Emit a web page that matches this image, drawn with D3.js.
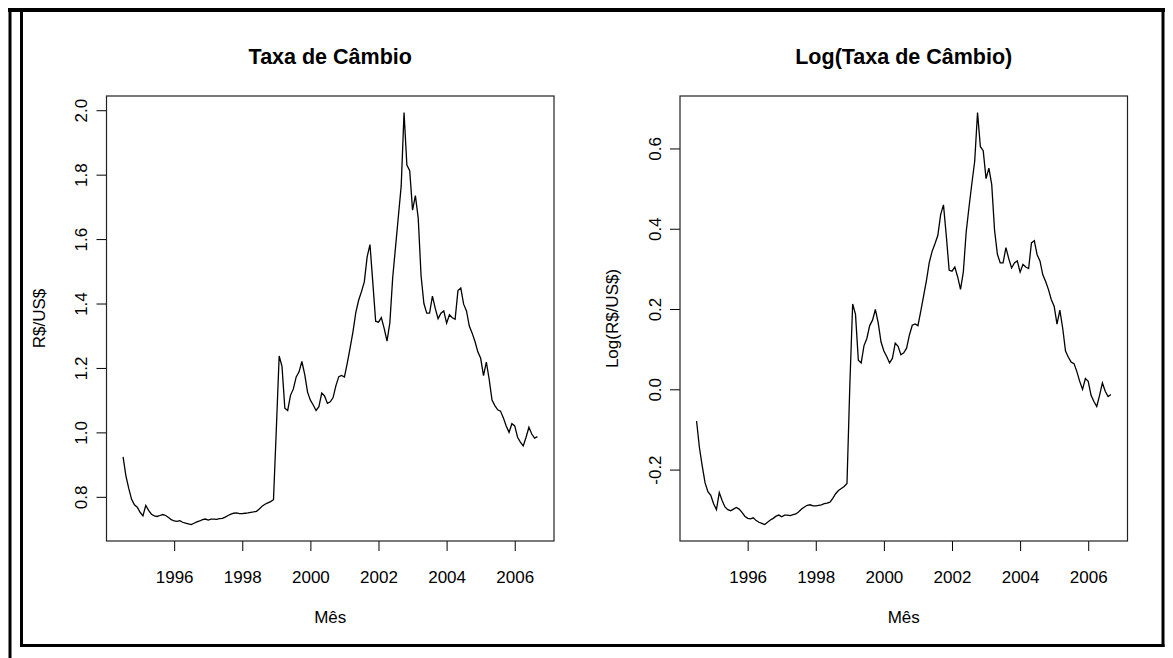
<!DOCTYPE html>
<html>
<head>
<meta charset="utf-8">
<script src="https://cdn.jsdelivr.net/npm/d3@7"></script>
<style>
  body { margin: 0; background: #fff; }
  svg text { font-family: "Liberation Sans", Arial, sans-serif; fill: #000; }
</style>
</head>
<body>
<div id="okvir"></div>
<script>
// dados mensais, jul/1994 ate set/2006
const inicio = 1994.5
const taxa = [
  0.924, 0.865, 0.826, 0.792, 0.775, 0.768, 0.752, 0.741, 0.773, 0.758, 0.746, 0.741,
  0.739, 0.742, 0.745, 0.742, 0.736, 0.729, 0.725, 0.724, 0.726, 0.721, 0.718, 0.716,
  0.714, 0.718, 0.722, 0.725, 0.729, 0.731, 0.728, 0.731, 0.731, 0.730, 0.732, 0.733,
  0.737, 0.742, 0.746, 0.749, 0.750, 0.748, 0.748, 0.749, 0.750, 0.752, 0.753, 0.755,
  0.762, 0.771, 0.777, 0.781, 0.785, 0.791, 1.010, 1.237, 1.205, 1.075, 1.068, 1.115,
  1.135, 1.172, 1.188, 1.220, 1.180, 1.125, 1.100, 1.085, 1.068, 1.080, 1.122, 1.113,
  1.090, 1.095, 1.108, 1.145, 1.173, 1.177, 1.172, 1.215, 1.262, 1.312, 1.372, 1.410,
  1.437, 1.467, 1.545, 1.583, 1.465, 1.345, 1.342, 1.356, 1.323, 1.283, 1.340, 1.480,
  1.575, 1.670, 1.765, 1.993, 1.830, 1.812, 1.690, 1.735, 1.665, 1.486, 1.400, 1.370,
  1.370, 1.423, 1.385, 1.353, 1.370, 1.377, 1.339, 1.365, 1.356, 1.351, 1.440, 1.448,
  1.398, 1.377, 1.330, 1.308, 1.282, 1.250, 1.230, 1.176, 1.218, 1.165, 1.100, 1.083,
  1.070, 1.066, 1.045, 1.020, 1.000, 1.027, 1.020, 0.985, 0.970, 0.958, 0.985, 1.016,
  0.995, 0.982, 0.987
]
const anos = [1996, 1998, 2000, 2002, 2004, 2006]
const ticksTaxa = [0.8, 1.0, 1.2, 1.4, 1.6, 1.8, 2.0]
const ticksLog = [-0.2, 0.0, 0.2, 0.4, 0.6]
const titulos = ["Taxa de Câmbio", "Log(Taxa de Câmbio)"]
const rotulosY = ["R$/US$", "Log(R$/US$)"]
const rotuloX = "Mês"

const largura = 1173
const altura = 658

const svg = d3.select("#okvir")
  .append("svg")
    .attr("width", largura)
    .attr("height", altura)

// moldura (parece uma captura de tela)
const moldura = svg.append("g").attr("stroke", "#000").attr("fill", "none")
moldura.append("line").attr("x1", 8).attr("x2", 1165).attr("y1", 10).attr("y2", 10).attr("stroke-width", 4)
moldura.append("line").attr("x1", 10).attr("x2", 10).attr("y1", 8).attr("y2", altura).attr("stroke-width", 3)
moldura.append("line").attr("x1", 21.5).attr("x2", 21.5).attr("y1", 10).attr("y2", 647).attr("stroke-width", 3)
moldura.append("line").attr("x1", 1163).attr("x2", 1163).attr("y1", 10).attr("y2", 647).attr("stroke-width", 3)
moldura.append("line").attr("x1", 20).attr("x2", 1164.5).attr("y1", 645.5).attr("y2", 645.5).attr("stroke-width", 3)

// expande 4% como o R faz
const expandir = ext => {
  const d = (ext[1] - ext[0]) * 0.04
  return [ext[0] - d, ext[1] + d]
}

const pontos = taxa.map((v, i) => ({ t: inicio + i / 12, v: v }))
const pontosLog = taxa.map((v, i) => ({ t: inicio + i / 12, v: Math.log(v) }))

const paineis = [
  { dados: pontos, ticks: ticksTaxa, x0: 106.5 },
  { dados: pontosLog, ticks: ticksLog, x0: 680 },
]

const topo = 96
const base = 541
const larguraPlot = 447.5

paineis.forEach((p, k) => {
  const g = svg.append("g")

  const x = d3.scaleLinear()
    .domain(expandir(d3.extent(p.dados, d => d.t)))
    .range([p.x0, p.x0 + larguraPlot])
  const y = d3.scaleLinear()
    .domain(expandir(d3.extent(p.dados, d => d.v)))
    .range([base, topo])

  const eixoX = d3.axisBottom(x)
    .tickValues(anos)
    .tickSize(10)
    .tickSizeOuter(0)
    .tickFormat(d3.format("d"))
  const gx = g.append("g")
    .attr("transform", `translate(0, ${base})`)
    .call(eixoX)
  gx.select(".domain").remove()
  gx.selectAll("line").attr("stroke", "#000")
  gx.selectAll("text")
    .attr("y", 42)
    .attr("dy", null)
    .style("font-size", "17px")

  const eixoY = d3.axisLeft(y)
    .tickValues(p.ticks)
    .tickSize(10)
    .tickSizeOuter(0)
    .tickFormat(d => d.toFixed(1))
  const gy = g.append("g")
    .attr("transform", `translate(${p.x0}, 0)`)
    .call(eixoY)
  gy.select(".domain").remove()
  gy.selectAll("line").attr("stroke", "#000")
  gy.selectAll("text")
    .attr("x", null)
    .attr("dy", null)
    .attr("text-anchor", "middle")
    .attr("transform", "translate(-19.5, 0) rotate(-90)")
    .style("font-size", "17px")

  // caixa do grafico
  g.append("rect")
    .attr("x", p.x0)
    .attr("y", topo)
    .attr("width", larguraPlot)
    .attr("height", base - topo)
    .attr("fill", "none")
    .attr("stroke", "#222")
    .attr("stroke-width", 1.2)

  const linha = d3.line()
    .x(d => x(d.t))
    .y(d => y(d.v))

  g.append("path")
    .datum(p.dados)
    .attr("d", linha)
    .attr("fill", "none")
    .attr("stroke", "#000")
    .attr("stroke-width", 1.3)

  const meio = p.x0 + larguraPlot / 2

  g.append("text")
    .attr("x", meio)
    .attr("y", 64)
    .attr("text-anchor", "middle")
    .style("font-size", "21.5px")
    .style("font-weight", "bold")
    .text(titulos[k])

  g.append("text")
    .attr("x", meio)
    .attr("y", 623)
    .attr("text-anchor", "middle")
    .style("font-size", "17px")
    .text(rotuloX)

  g.append("text")
    .attr("transform", `translate(${p.x0 - 62}, ${(topo + base) / 2}) rotate(-90)`)
    .attr("text-anchor", "middle")
    .style("font-size", "17px")
    .text(rotulosY[k])
})
</script>
</body>
</html>
